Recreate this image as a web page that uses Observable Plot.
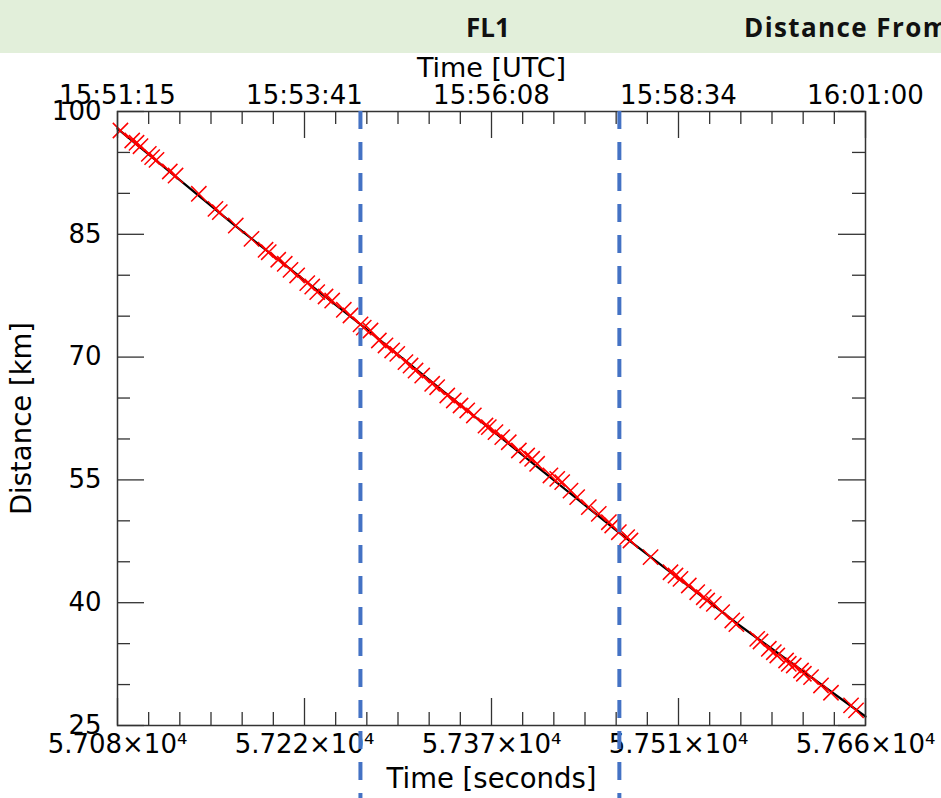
<!DOCTYPE html>
<html>
<head>
<meta charset="utf-8">
<script src="https://cdn.jsdelivr.net/npm/d3@7"></script>
<script src="https://cdn.jsdelivr.net/npm/@observablehq/plot@0.6"></script>
<style>
  html, body { margin: 0; padding: 0; background: #fff; width: 941px; height: 798px; overflow: hidden; }
  #header { position: relative; width: 941px; height: 53px; background: #E2EFDA; overflow: hidden;
            font-family: "Open Sans", sans-serif; font-weight: 700; font-size: 26px; color: #111; }
  #header span { position: absolute; top: 9px; white-space: nowrap; }
  #chart svg { display: block; overflow: visible; }
</style>
</head>
<body>
<div id="header"><span id="t1" style="left:466px">FL1</span><span id="t2" style="left:744px;letter-spacing:1.4px">Distance From</span></div>
<div id="chart"></div>
<script>
// ---- data ----
const timeSec = [
  57077.3, 57086.5, 57089.9, 57093.0, 57099.5, 57102.1, 57105.5, 57115.9, 57120.4, 57138.6,
  57151.6, 57155.0, 57167.5, 57179.8, 57190.8, 57193.3, 57200.7, 57205.8, 57210.3, 57215.5,
  57223.4, 57227.3, 57231.2, 57237.7, 57242.9, 57252.0, 57257.2, 57265.1, 57267.6, 57272.9,
  57279.4, 57284.6, 57289.8, 57293.8, 57300.2, 57304.2, 57308.1, 57313.3, 57321.1, 57325.0,
  57332.9, 57338.0, 57343.3, 57348.5, 57353.7, 57362.8, 57365.4, 57370.6, 57375.9, 57381.0,
  57388.9, 57395.4, 57399.3, 57403.2, 57413.6, 57418.9, 57422.8, 57429.3, 57434.5, 57443.6,
  57451.4, 57459.3, 57461.9, 57467.1, 57473.6, 57476.2, 57491.9, 57507.5, 57511.4, 57515.3,
  57521.8, 57528.4, 57533.5, 57536.2, 57541.4, 57547.9, 57555.8, 57559.0, 57575.3, 57577.9,
  57584.4, 57588.3, 57591.0, 57597.9, 57600.0, 57603.9, 57609.6, 57611.8, 57617.4, 57625.2,
  57633.0, 57648.7, 57652.6
];
const distKm = [
  97.68, 96.46, 96.18, 95.76, 94.83, 94.42, 94.10, 92.67, 92.18, 89.95,
  88.11, 87.70, 86.07, 84.45, 83.11, 82.81, 81.89, 81.40, 80.66, 79.97,
  79.03, 78.62, 77.93, 77.40, 76.91, 75.78, 75.08, 74.00, 73.60, 73.25,
  72.03, 71.42, 70.81, 70.40, 69.38, 68.97, 68.36, 67.75, 66.74, 66.32,
  65.31, 64.70, 64.09, 63.48, 62.87, 61.64, 61.44, 60.83, 60.22, 59.60,
  58.59, 57.98, 57.58, 56.97, 55.54, 55.13, 54.72, 53.70, 52.89, 51.67,
  50.86, 49.83, 49.43, 48.61, 48.00, 47.60, 45.56, 43.72, 43.32, 42.92,
  42.10, 41.28, 40.67, 40.27, 39.86, 38.84, 37.83, 37.38, 35.59, 35.26,
  34.37, 33.95, 33.55, 32.94, 32.54, 32.33, 31.72, 31.32, 30.90, 29.89,
  29.00, 27.45, 26.84
];
const fitTime = [57075, 57165, 57265, 57365, 57467, 57560, 57660];
const fitDist = [97.9, 86.3, 74.0, 61.4, 48.6, 37.4, 26.1];
const eventTimes = [57265, 57467.5];

const xMajor = [57075, 57221.25, 57367.5, 57513.75, 57660];
const xLabelsBottom = ["5.708×10⁴", "5.722×10⁴", "5.737×10⁴", "5.751×10⁴", "5.766×10⁴"];
const xLabelsTop = ["15:51:15", "15:53:41", "15:56:08", "15:58:34", "16:01:00"];
const yMajor = [25, 40, 55, 70, 85, 100];
const yMinor = [30, 35, 45, 50, 60, 65, 75, 80, 90, 95];
const xMinor = d3.range(57075, 57660, 24.375).filter(v => !xMajor.some(m => Math.abs(m - v) < 1e-6));

const pts = timeSec.map((t, i) => ({t, d: distKm[i]}));
const fit = fitTime.map((t, i) => ({t, d: fitDist[i]}));

// ---- layout ----
const W = 941, H = 745;
const mT = 58, mB = 73, mL = 117, mR = 76;
const fw = W - mL - mR, fh = H - mT - mB;
const MAJ = 27, MIN = 13;
const tickColor = "#333";

const chart = Plot.plot({
  width: W, height: H,
  marginTop: mT, marginBottom: mB, marginLeft: mL, marginRight: mR,
  style: {fontFamily: "DejaVu Sans", fontSize: "26px", color: "#000", background: "#fff", overflow: "visible"},
  x: {domain: [57075, 57660]},
  y: {domain: [25, 100]},
  marks: [
    // fit line & data
    Plot.line(fit, {x: "t", y: "d", stroke: "#000", strokeWidth: 2.2}),
    Plot.dot(pts, {x: "t", y: "d", symbol: "times", r: 7, stroke: "#ff0000", strokeWidth: 1.5}),
    // inward ticks
    Plot.ruleX(xMajor, {x: d => d, insetTop: fh - MAJ, stroke: tickColor, strokeWidth: 1.3}),
    Plot.ruleX(xMinor, {x: d => d, insetTop: fh - MIN, stroke: tickColor, strokeWidth: 1.3}),
    Plot.ruleX(xMajor, {x: d => d, insetBottom: fh - MAJ, stroke: tickColor, strokeWidth: 1.3}),
    Plot.ruleX(xMinor, {x: d => d, insetBottom: fh - MIN, stroke: tickColor, strokeWidth: 1.3}),
    Plot.ruleY(yMajor, {y: d => d, insetRight: fw - MAJ, stroke: tickColor, strokeWidth: 1.3}),
    Plot.ruleY(yMinor, {y: d => d, insetRight: fw - MIN, stroke: tickColor, strokeWidth: 1.3}),
    Plot.ruleY(yMajor, {y: d => d, insetLeft: fw - MAJ, stroke: tickColor, strokeWidth: 1.3}),
    Plot.ruleY(yMinor, {y: d => d, insetLeft: fw - MIN, stroke: tickColor, strokeWidth: 1.3}),
    Plot.frame({stroke: tickColor, strokeWidth: 1.5}),
    // tick labels
    Plot.axisX(xMajor, {anchor: "bottom", tickSize: 0, tickPadding: 9, label: null,
      tickFormat: d => xLabelsBottom[xMajor.indexOf(d)]}),
    Plot.axisX(xMajor, {anchor: "top", tickSize: 0, tickPadding: 8, label: null,
      tickFormat: d => xLabelsTop[xMajor.indexOf(d)]}),
    Plot.axisY(yMajor, {anchor: "left", tickSize: 0, tickPadding: 16, label: null,
      tickFormat: d => String(d)}),
    // axis titles
    Plot.text(["Time [seconds]"], {frameAnchor: "bottom", dy: 54, lineAnchor: "middle", textAnchor: "middle", fontSize: 27.5, text: d => d}),
    Plot.text(["Time [UTC]"], {frameAnchor: "top", dy: -43, lineAnchor: "middle", textAnchor: "middle", fontSize: 27, text: d => d}),
    Plot.text(["Distance [km]"], {frameAnchor: "left", dx: -95, rotate: -90, lineAnchor: "middle", textAnchor: "middle", fontSize: 27.5, text: d => d}),
    // event markers
    Plot.ruleX(eventTimes, {x: d => d, y1: 100, y2: 16, stroke: "#4472C4", strokeWidth: 4, strokeDasharray: "18,13"})
  ]
});
document.getElementById("chart").appendChild(chart);
</script>
</body>
</html>
